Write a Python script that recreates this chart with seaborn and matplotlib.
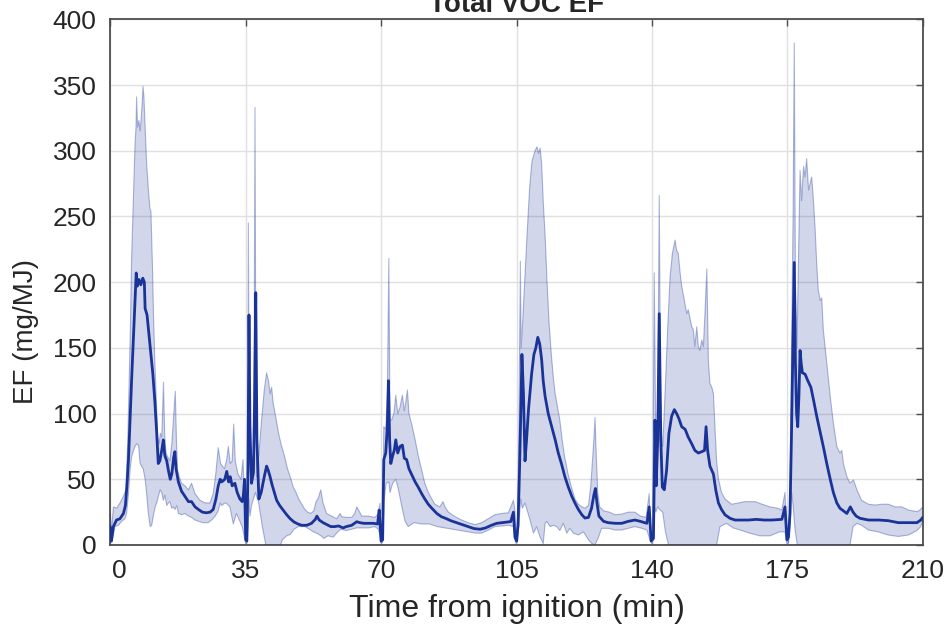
import numpy as np
import matplotlib
matplotlib.use("Agg")
import matplotlib.pyplot as plt
import matplotlib.transforms as mtransforms
import seaborn as sns

# Six 35-minute burns laid end to end: (minutes, EF in mg/MJ)
mean_pts = [
    (0.0, 14), (0.3, 3), (0.8, 14), (1.6, 19), (2.5, 20), (3.4, 24), (3.9, 30), (4.3, 45),
    (4.7, 65), (5.1, 95), (5.5, 125), (6.0, 160), (6.4, 190), (6.7, 207), (7.0, 197),
    (7.4, 202), (7.9, 198), (8.4, 203), (8.8, 200), (9.0, 180), (9.5, 175), (10.0, 160),
    (10.5, 145), (11.0, 130), (11.5, 110), (12.0, 85), (12.4, 62), (12.8, 64), (13.3, 72),
    (13.7, 80), (14.1, 68), (14.6, 64), (15.0, 57), (15.5, 50), (15.9, 54), (16.4, 67),
    (16.7, 71), (17.0, 58), (17.6, 48), (18.4, 41), (19.3, 37), (20.2, 33), (21.0, 33),
    (21.9, 29), (22.8, 27), (23.8, 25), (24.8, 24.5), (25.8, 25), (26.6, 27), (27.3, 35),
    (27.9, 45), (28.4, 50), (28.8, 48), (29.6, 50), (30.1, 56), (30.6, 48), (31.0, 52),
    (31.5, 45), (32.2, 47), (32.8, 40), (33.5, 35), (34.1, 33), (34.4, 38), (34.7, 50),
    (35.0, 4),
    (35.3, 3), (35.6, 60), (35.85, 175), (36.1, 90), (36.5, 47), (37.0, 55), (37.3, 110),
    (37.6, 192), (37.9, 80), (38.4, 35), (39.0, 40), (39.8, 52), (40.4, 60), (40.8, 57),
    (41.3, 52), (41.8, 46), (42.4, 40), (43.0, 34), (43.8, 30), (44.7, 26.5), (45.6, 23),
    (46.5, 20), (47.5, 17.5), (48.5, 16), (49.5, 15), (50.8, 15), (52.0, 16.5), (53.0, 19.5),
    (53.4, 22), (54.0, 19), (55.0, 17), (56.0, 15.5), (57.0, 14), (58.0, 14), (59.0, 14.5),
    (60.2, 13), (61.0, 14), (62.4, 15), (63.7, 17.7), (64.5, 17), (65.5, 16.5), (67.0, 16.5),
    (68.0, 16.5), (69.1, 16), (69.5, 26.6), (70.0, 3),
    (70.4, 4), (70.7, 65), (71.2, 70), (71.6, 90), (71.9, 125), (72.2, 80), (72.5, 62),
    (73.0, 68), (73.4, 72), (73.8, 80), (74.3, 70), (74.9, 75), (75.5, 76), (76.0, 66),
    (76.6, 65), (77.2, 58), (78.0, 53), (78.8, 48), (79.6, 44), (80.5, 39), (81.3, 35),
    (82.2, 31), (83.1, 28), (84.4, 24), (85.6, 21.5), (86.9, 20), (88.0, 18.5), (89.5, 17),
    (91.0, 15.5), (92.5, 14), (94.0, 12.5), (95.6, 12), (97.0, 13), (98.5, 15), (99.9, 16.5),
    (101.2, 17), (102.5, 17.5), (103.5, 17.8), (104.2, 25), (104.6, 6), (105.0, 3),
    (105.4, 15), (105.8, 60), (106.1, 100), (106.4, 145), (106.8, 115), (107.2, 64),
    (107.6, 80), (108.1, 103), (108.9, 130), (109.5, 145), (110.0, 150), (110.5, 158),
    (111.0, 153), (111.5, 141), (111.9, 125), (112.4, 113), (113.2, 100), (114.1, 90),
    (115.0, 80), (115.8, 70), (116.7, 61), (117.5, 52), (118.4, 44), (119.3, 37), (120.1, 32),
    (121.0, 27), (121.9, 23), (122.7, 20.5), (123.6, 21), (124.4, 28), (125.0, 38),
    (125.4, 43), (125.8, 32), (126.3, 22), (127.5, 18), (128.7, 17), (130.5, 16.5),
    (132.2, 16.5), (133.9, 18), (135.6, 19), (137.0, 18), (138.7, 16.5), (139.3, 29),
    (139.8, 3),
    (140.4, 5), (140.8, 95), (141.1, 45), (141.5, 80), (141.9, 176), (142.3, 80), (142.7, 44),
    (143.2, 42), (143.8, 57), (144.4, 85), (145.1, 98), (145.8, 103), (146.4, 100),
    (147.0, 96), (147.7, 90), (148.6, 88), (149.4, 82), (150.3, 77), (151.1, 72), (152.0, 70),
    (152.9, 71), (153.6, 72), (154.0, 90), (154.4, 72), (155.0, 60), (155.9, 54), (156.5, 42),
    (157.2, 32), (158.0, 27), (158.9, 23), (160.2, 20.3), (161.5, 19), (163.0, 19),
    (165.0, 19), (167.0, 19.5), (169.0, 19), (171.0, 19), (173.6, 19.5), (174.4, 29),
    (174.9, 4),
    (175.3, 6), (175.7, 24), (176.1, 87), (176.5, 160), (176.8, 215), (177.1, 138),
    (177.4, 100), (177.7, 90), (178.0, 113), (178.3, 148), (178.6, 138), (178.9, 131),
    (179.6, 130), (180.3, 125), (181.1, 120), (181.8, 110), (182.6, 98), (183.5, 86),
    (184.3, 75), (185.2, 62), (186.1, 50), (186.9, 40), (187.8, 32), (188.6, 28), (189.5, 26),
    (190.4, 24), (191.3, 29), (192.0, 25), (192.8, 22), (193.8, 20.3), (196.0, 19),
    (198.6, 19), (201.1, 18.5), (203.7, 17), (206.3, 17), (208.5, 17), (209.5, 19),
    (210.0, 21),
]

upper_pts = [
    (0.0, 24), (0.35, 11), (0.8, 29), (1.65, 28), (2.5, 32), (3.4, 37), (4.0, 42), (4.5, 77),
    (4.8, 115), (5.2, 166), (5.5, 217), (5.95, 262), (6.4, 306), (6.65, 318), (6.8, 341),
    (7.05, 318), (7.4, 323), (7.7, 315), (7.95, 323), (8.3, 339), (8.45, 349), (8.7, 341),
    (9.0, 318), (9.4, 290), (9.8, 272), (10.25, 256), (10.5, 254), (10.9, 212), (11.2, 171),
    (11.55, 136), (12.0, 103), (12.25, 82), (12.6, 77), (12.95, 85), (13.3, 82), (13.6, 110),
    (13.75, 124), (14.05, 85), (14.4, 70), (14.85, 67), (15.4, 64), (15.9, 77), (16.3, 95),
    (16.8, 117), (17.1, 80), (17.4, 57), (17.8, 52), (18.4, 47), (19.3, 45), (20.2, 42),
    (21.0, 47), (21.9, 39), (23.2, 34), (24.5, 32), (25.8, 32), (26.6, 39), (27.3, 55),
    (27.9, 74), (28.5, 62), (29.0, 60), (29.5, 58), (30.1, 65), (30.5, 75), (31.0, 62),
    (31.5, 64), (31.9, 92), (32.3, 64), (33.0, 54), (33.8, 50), (34.3, 65), (34.65, 35),
    (35.0, 3),
    (35.3, 4), (35.55, 80), (35.7, 245), (35.9, 90), (36.2, 56), (36.6, 60), (37.0, 55),
    (37.2, 150), (37.4, 333), (37.6, 150), (37.85, 52), (38.4, 69), (39.1, 95), (39.8, 118),
    (40.4, 131), (40.9, 125), (41.3, 115), (41.7, 120), (42.1, 108), (42.6, 100), (43.5, 85),
    (44.2, 76), (45.0, 68), (45.8, 58), (46.5, 52), (47.3, 44), (48.0, 40), (48.7, 35),
    (49.5, 31), (50.3, 27), (51.0, 25), (51.8, 24), (52.6, 26), (53.2, 33), (53.8, 36),
    (54.4, 42), (55.0, 32), (55.9, 24), (57.2, 22), (58.5, 20), (59.4, 24), (59.8, 21.6),
    (61.0, 21), (62.4, 21), (63.2, 24), (63.7, 29), (64.1, 27), (65.0, 22), (66.7, 22),
    (68.4, 21), (69.3, 24), (69.7, 31.7), (70.0, 3),
    (70.4, 5), (70.7, 90), (71.2, 88), (71.6, 110), (72.0, 218), (72.3, 95), (72.7, 95),
    (73.3, 100), (73.8, 114), (74.3, 100), (74.9, 105), (75.5, 114), (76.0, 102),
    (76.35, 108), (76.8, 118), (77.2, 100), (77.9, 92), (78.8, 80), (79.6, 68), (80.5, 57),
    (81.3, 47), (82.2, 40), (83.1, 35), (83.9, 31), (85.2, 29), (86.0, 33), (86.5, 29),
    (87.4, 25), (89.1, 21.6), (90.8, 19), (92.5, 17), (94.3, 15.5), (96.0, 17), (97.7, 20),
    (99.4, 23), (101.2, 24), (102.9, 24.5), (104.2, 34), (104.6, 26), (104.9, 4),
    (105.3, 20), (105.6, 80), (106.0, 216), (106.2, 150), (106.6, 170), (107.2, 205),
    (107.8, 240), (108.4, 272), (109.0, 292), (109.8, 300), (110.3, 303), (110.7, 298),
    (111.1, 302), (111.5, 290), (111.9, 262), (112.4, 235), (112.9, 200), (113.4, 170),
    (114.0, 145), (114.5, 128), (115.0, 115), (115.6, 105), (116.2, 95), (116.8, 80),
    (117.5, 66), (118.4, 53), (119.3, 43), (120.1, 35), (121.0, 31), (121.9, 29), (122.7, 28),
    (123.6, 30), (124.2, 45), (124.6, 62), (125.0, 80), (125.3, 97), (125.6, 70), (126.0, 40),
    (126.5, 29), (127.5, 26), (129.0, 25), (130.5, 23), (132.2, 23.5), (133.9, 25),
    (135.6, 25), (137.0, 22), (138.5, 21), (139.3, 39), (139.7, 5),
    (140.2, 3), (140.6, 207), (141.0, 80), (141.4, 60), (141.9, 266), (142.3, 90), (142.8, 75),
    (143.4, 115), (144.1, 166), (144.7, 204), (145.3, 222), (146.0, 232), (146.4, 224),
    (146.8, 222), (147.3, 207), (147.7, 197), (148.4, 186), (149.0, 176), (149.4, 179),
    (149.9, 172), (150.3, 166), (150.7, 164), (151.1, 151), (151.6, 166), (152.0, 151),
    (152.4, 148), (152.9, 156), (153.3, 151), (153.7, 175), (154.2, 210), (154.6, 140),
    (155.0, 123), (155.5, 120), (155.9, 115), (156.3, 90), (156.7, 65), (157.2, 50),
    (158.0, 40), (158.9, 35), (160.6, 31), (162.4, 32), (164.0, 33), (166.7, 33), (168.5, 31),
    (170.5, 29), (172.5, 28), (173.6, 26.6), (174.4, 40), (174.8, 10),
    (175.3, 2), (175.7, 37), (176.1, 150), (176.5, 250), (176.8, 382), (177.1, 200),
    (177.5, 150), (177.9, 220), (178.3, 285), (178.7, 262), (179.2, 288), (179.6, 280),
    (180.0, 294), (180.5, 270), (180.9, 275), (181.3, 280), (181.7, 265), (182.2, 240),
    (182.6, 214), (183.0, 194), (183.5, 186), (183.9, 188), (184.3, 164), (184.8, 150),
    (185.2, 138), (186.1, 113), (186.9, 93), (187.8, 75), (188.6, 70), (189.1, 72),
    (189.5, 62), (190.4, 52), (191.2, 47), (192.1, 49.5), (193.0, 42), (194.2, 34),
    (196.0, 31), (197.7, 30.4), (199.4, 31), (201.1, 31), (202.9, 29), (204.6, 29),
    (206.3, 26.6), (208.5, 25.4), (209.3, 26.6), (210.0, 29),
]

lower_pts = [
    (0.0, 1.3), (0.5, 4), (1.2, 14), (2.1, 15), (2.9, 18), (3.8, 20), (4.2, 24), (4.7, 39),
    (5.1, 57), (5.5, 67), (6.0, 72), (6.4, 75), (6.8, 77), (7.3, 76), (7.7, 62), (8.1, 60),
    (8.5, 58), (9.0, 50), (9.4, 39), (9.8, 25), (10.3, 14), (10.7, 15), (11.1, 22), (11.6, 29),
    (12.0, 32), (12.4, 37), (12.9, 42), (13.3, 40), (13.7, 34), (14.1, 38), (14.6, 30),
    (15.0, 32), (15.4, 33), (15.9, 28), (16.3, 29), (16.7, 27), (17.2, 30), (17.6, 24),
    (18.5, 23), (19.3, 24), (20.2, 22), (21.0, 21), (21.9, 19), (22.8, 18), (24.0, 17),
    (25.3, 17), (26.2, 19), (27.1, 22), (27.9, 26), (28.4, 32), (28.8, 30), (29.6, 32),
    (30.3, 31), (30.9, 29), (31.8, 16), (32.6, 24), (33.5, 18), (34.1, 14), (34.65, 6),
    (35.0, 1),
    (35.3, 1), (35.6, 12), (35.85, 35), (36.1, 22), (36.5, 30), (37.0, 35), (37.5, 40),
    (38.3, 33), (39.3, 14), (40.2, 0), (44.0, 0), (44.5, 4), (45.6, 7), (46.5, 8), (47.5, 12),
    (48.6, 14), (50.3, 14), (51.5, 12), (52.5, 10), (53.3, 9), (54.5, 7), (55.2, 5),
    (56.3, 7), (57.6, 6), (58.5, 9), (59.5, 12), (61.0, 11), (62.4, 12), (63.7, 13),
    (65.0, 13), (66.7, 13), (68.4, 14), (69.3, 12), (69.7, 7), (70.0, 1),
    (70.4, 2), (70.8, 35), (71.3, 47), (72.0, 48), (72.3, 40), (73.0, 47), (73.8, 50),
    (74.5, 42), (75.3, 30), (76.2, 18), (77.0, 14), (78.5, 17), (80.5, 16), (82.5, 16),
    (84.5, 14), (86.5, 13), (88.5, 12), (90.5, 11), (92.5, 10), (94.5, 9), (96.0, 9),
    (97.5, 11), (99.4, 14), (101.2, 14.5), (102.9, 15), (104.2, 14), (104.9, 1),
    (105.3, 3), (105.7, 20), (106.1, 35), (106.5, 28), (107.2, 32), (107.8, 26), (108.5, 19),
    (109.4, 9), (110.2, 14), (111.1, 6), (111.9, 1), (112.4, 16.5), (112.8, 18), (113.7, 14),
    (114.5, 15), (115.4, 14), (116.2, 11), (117.1, 16.5), (118.0, 9), (118.8, 12.7),
    (119.7, 9), (121.0, 7.6), (122.3, 10), (123.6, 4), (124.4, 1.3), (125.3, 0), (126.2, 6),
    (127.0, 12.7), (128.7, 12.7), (130.5, 11.4), (132.2, 11.4), (133.9, 12.7), (135.6, 14),
    (137.4, 12.7), (138.7, 11.4), (139.5, 4), (140.0, 1),
    (140.2, 1), (140.6, 30), (141.0, 25), (141.5, 29), (142.0, 27), (142.8, 25), (143.5, 10),
    (144.3, 0), (156.7, 0), (157.6, 14), (159.3, 16.5), (161.0, 13), (162.8, 11.4),
    (165.3, 9), (167.9, 7), (170.5, 7), (173.0, 10), (174.4, 10), (174.9, 1),
    (175.3, 1), (175.7, 15), (176.1, 40), (176.5, 30), (177.0, 12), (177.6, 0), (191.2, 0),
    (192.0, 14), (193.0, 16.5), (194.2, 15), (196.0, 11.4), (198.5, 10), (201.1, 7.6),
    (203.7, 6.5), (206.3, 7.6), (208.5, 11), (209.5, 14), (210.0, 19),
]

x_ticks = [0, 35, 70, 105, 140, 175, 210]
y_ticks = [0, 50, 100, 150, 200, 250, 300, 350, 400]

mean_t, mean_v = map(np.array, zip(*mean_pts))
up_t, up_v = map(np.array, zip(*upper_pts))
lo_t, lo_v = map(np.array, zip(*lower_pts))

sns.set_style("white")
plt.rcParams["font.family"] = ["Liberation Sans", "DejaVu Sans"]

BLUE = "#1a3399"
TEXT = "#262626"
AXIS = "#4d4d4d"

fig = plt.figure(figsize=(9.53, 6.32), dpi=100)
ax = fig.add_axes([110.3 / 953, 1 - 545 / 632, 812.4 / 953, 525.7 / 632])

# shaded spread between lower and upper bounds
ax.fill(np.concatenate([up_t, lo_t[::-1]]), np.concatenate([up_v, lo_v[::-1]]),
        facecolor=BLUE, alpha=0.2, edgecolor="none", zorder=2)
sns.lineplot(x=up_t, y=up_v, ax=ax, estimator=None, sort=False,
             color=BLUE, alpha=0.35, linewidth=0.8, zorder=3)
sns.lineplot(x=lo_t, y=lo_v, ax=ax, estimator=None, sort=False,
             color=BLUE, alpha=0.35, linewidth=0.8, zorder=3)
sns.lineplot(x=mean_t, y=mean_v, ax=ax, estimator=None, sort=False,
             color=BLUE, linewidth=2.0, zorder=4)

ax.set_xlim(0, 210)
ax.set_ylim(0, 400)
ax.set_xticks(x_ticks)
ax.set_yticks(y_ticks)
ax.set_axisbelow(True)
ax.grid(True, color="#e0e0e0", linewidth=1.0)

for side in ["left", "right", "top", "bottom"]:
    ax.spines[side].set_visible(True)
    ax.spines[side].set_color(AXIS)
    ax.spines[side].set_linewidth(1.3)

ax.tick_params(direction="in", top=True, right=True, length=5, width=1.0,
               color=AXIS, labelcolor=TEXT, labelsize=19, pad=10)

# nudge the first x label clear of the y-axis "0"
first = ax.get_xticklabels()[0]
first.set_transform(first.get_transform() +
                    mtransforms.ScaledTranslation(9 / 100, 0, fig.dpi_scale_trans))

ax.set_xlabel("Time from ignition (min)", fontsize=23, color=TEXT, labelpad=8)
ax.set_ylabel("EF (mg/MJ)", fontsize=20, color=TEXT)
ax.yaxis.set_label_coords(-0.088, 0.407)
ax.set_title("Total VOC EF", fontsize=20, fontweight="bold", color=TEXT, pad=5)

fig.savefig("out.png", dpi=100, facecolor="white")
